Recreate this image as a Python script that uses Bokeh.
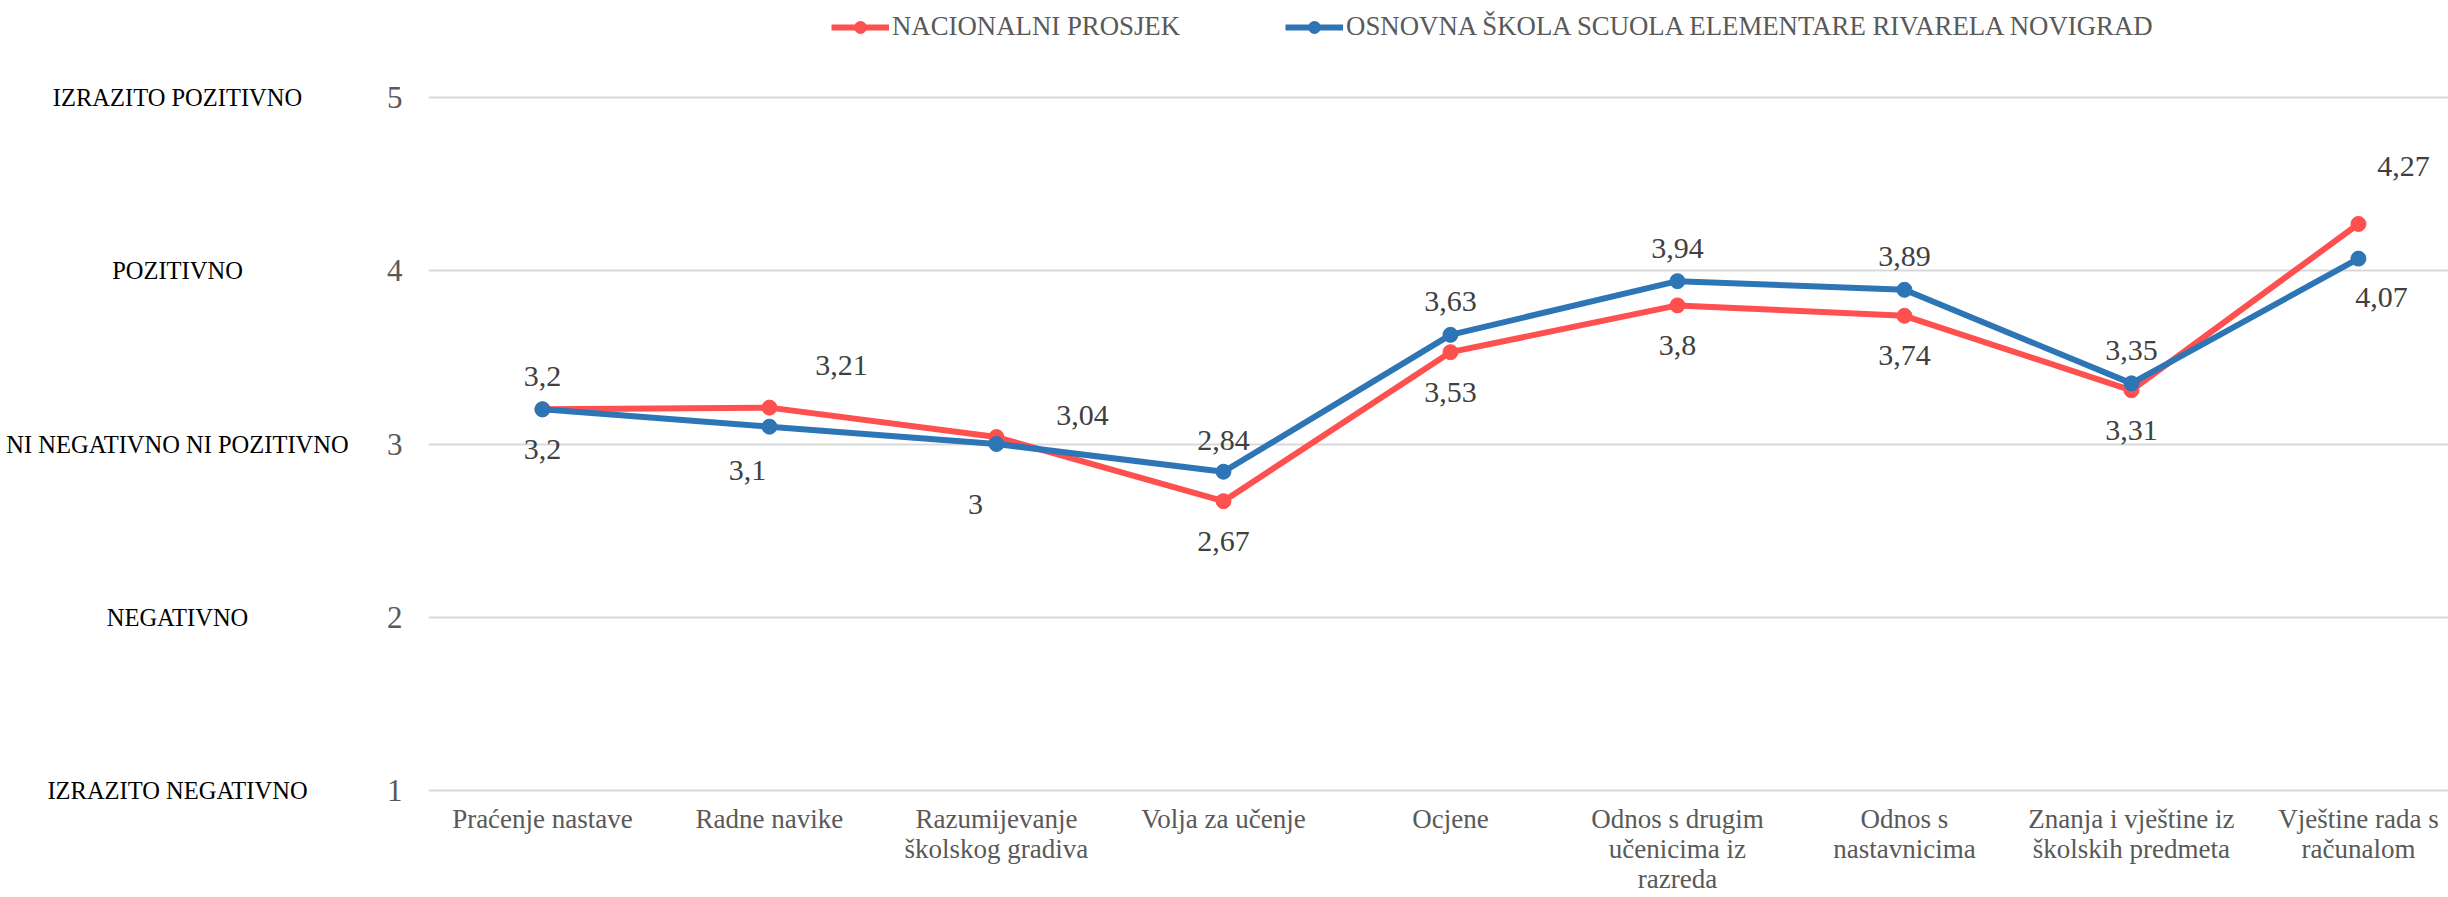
from bokeh.plotting import figure
from bokeh.layouts import row
from bokeh.models import (ColumnDataSource, Range1d, FixedTicker, Legend, LegendItem)
from bokeh.embed import file_html
from bokeh.resources import INLINE
from bokeh.core.properties import value

# ---------------- data ----------------
categories = [
    "Praćenje nastave",
    "Radne navike",
    "Razumijevanje\nškolskog gradiva",
    "Volja za učenje",
    "Ocjene",
    "Odnos s drugim\nučenicima iz\nrazreda",
    "Odnos s\nnastavnicima",
    "Znanja i vještine iz\nškolskih predmeta",
    "Vještine rada s\nračunalom",
]
nacionalni = [3.2, 3.21, 3.04, 2.67, 3.53, 3.8, 3.74, 3.31, 4.27]
skola = [3.2, 3.1, 3.0, 2.84, 3.63, 3.94, 3.89, 3.35, 4.07]
series_names = ["NACIONALNI PROSJEK",
                "OSNOVNA ŠKOLA SCUOLA ELEMENTARE RIVARELA NOVIGRAD"]
scale_values = [1, 2, 3, 4, 5]
scale_names = ["IZRAZITO NEGATIVNO", "NEGATIVNO", "NI NEGATIVNO NI POZITIVNO",
               "POZITIVNO", "IZRAZITO POZITIVNO"]

# label placement (screen px offsets, positive dy = down)
red_dx = [0, 72, 86, 0, 0, 0, 0, 0, 45]
red_dy = [40, -42, -22, 40, 40, 40, 40, 40, -57]
blue_dx = [0, -22, -21, 0, 0, 0, 0, 0, 23]
blue_dy = [-33, 44, 60, -31, -33, -33, -33, -33, 39]

RED = "#FF5050"
BLUE = "#2E75B6"
SERIF = "Liberation Serif"

def fmt(v):
    return f"{v:g}".replace(".", ",")

H = 897
TOP_PX = 97          # where the value 5 sits
BOTTOM = 96
PX_PER_UNIT_Y = 173.25
y_end = 5 + TOP_PX / PX_PER_UNIT_Y
y_range = Range1d(y_end - (H - BOTTOM) / PX_PER_UNIT_Y, y_end)

LEFT_W = 348
MAIN_W = 2448 - LEFT_W
BORDER_L = 80
xs = list(range(len(categories)))
x_start = -0.502
x_range = Range1d(x_start, x_start + (MAIN_W - BORDER_L) / 227.0)

# ---------------- main chart ----------------
p = figure(width=MAIN_W, height=H, output_backend="svg", toolbar_location=None,
           x_range=x_range, y_range=y_range,
           min_border_left=BORDER_L, min_border_right=0, min_border_top=0,
           min_border_bottom=BOTTOM)
p.outline_line_color = None

p.xaxis.ticker = FixedTicker(ticks=xs)
p.xaxis.major_label_overrides = {i: c for i, c in enumerate(categories)}
p.xaxis.axis_line_color = None
p.xaxis.major_tick_line_color = None
p.xaxis.minor_tick_line_color = None
p.xaxis.major_tick_out = 0
p.xaxis.major_tick_in = 0
p.xaxis.minor_tick_out = 0
p.xaxis.major_label_text_font = SERIF
p.xaxis.major_label_text_font_size = "27px"
p.xaxis.major_label_text_line_height = 1.0
p.xaxis.major_label_text_color = "#595959"
p.xaxis.major_label_standoff = 2

p.yaxis.ticker = FixedTicker(ticks=scale_values)
p.yaxis.axis_line_color = None
p.yaxis.major_tick_line_color = None
p.yaxis.minor_tick_line_color = None
p.yaxis.major_tick_out = 0
p.yaxis.major_tick_in = 0
p.yaxis.minor_tick_out = 0
p.yaxis.major_label_text_font = SERIF
p.yaxis.major_label_text_font_size = "31px"
p.yaxis.major_label_text_color = "#595959"
p.yaxis.major_label_standoff = 26

p.xgrid.grid_line_color = None
p.ygrid.ticker = FixedTicker(ticks=scale_values)
p.ygrid.grid_line_color = "#D9D9D9"
p.ygrid.grid_line_width = 2

src_r = ColumnDataSource(dict(x=xs, y=nacionalni, t=[fmt(v) for v in nacionalni],
                              dx=red_dx, dy=red_dy))
src_b = ColumnDataSource(dict(x=xs, y=skola, t=[fmt(v) for v in skola],
                              dx=blue_dx, dy=blue_dy))

r_line = p.line("x", "y", source=src_r, line_color=RED, line_width=6, line_join="round")
r_pts = p.scatter("x", "y", source=src_r, size=15, fill_color=RED, line_color=RED)
b_line = p.line("x", "y", source=src_b, line_color=BLUE, line_width=6, line_join="round")
b_pts = p.scatter("x", "y", source=src_b, size=15, fill_color=BLUE, line_color=BLUE)

for src in (src_r, src_b):
    p.text("x", "y", text="t", source=src, x_offset="dx", y_offset="dy",
           text_align="center", text_baseline="middle",
           text_font=value(SERIF), text_font_size="30px", text_color="#404040")

legend = Legend(items=[LegendItem(label=series_names[0], renderers=[r_line, r_pts]),
                       LegendItem(label=series_names[1], renderers=[b_line, b_pts])],
                orientation="horizontal", location=(403, 759),
                glyph_width=58, glyph_height=30, label_height=30,
                label_standoff=3, spacing=105, padding=0, margin=0,
                border_line_color=None, background_fill_alpha=0,
                label_text_font=SERIF, label_text_font_size="26.8px",
                label_text_color="#595959")
p.add_layout(legend)

# ---------------- scale descriptions (left panel) ----------------
left = figure(width=LEFT_W, height=H, output_backend="svg", toolbar_location=None,
              x_range=Range1d(0, LEFT_W), y_range=y_range,
              x_axis_location=None, y_axis_location=None,
              min_border_left=0, min_border_right=0, min_border_top=0,
              min_border_bottom=BOTTOM)
left.outline_line_color = None
left.grid.visible = False
src_s = ColumnDataSource(dict(x=[177] * len(scale_values), y=scale_values, t=scale_names))
left.text("x", "y", text="t", source=src_s, text_align="center", text_baseline="middle",
          text_font=value(SERIF), text_font_size="24.5px", text_color="#000000")

layout = row(left, p)
open("out.html", "w").write(file_html(layout, INLINE))
